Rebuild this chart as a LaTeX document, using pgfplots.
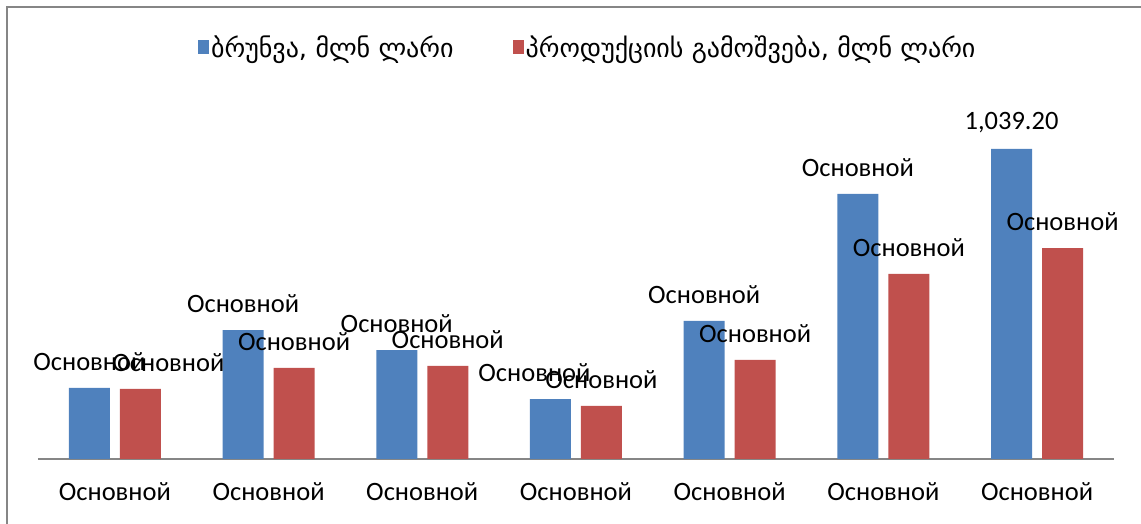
\documentclass[border=0pt]{standalone}
\usepackage{fontspec}
\setmainfont{Carlito}
\newfontfamily\geo{DejaVu Sans}
\usepackage{pgfplots}
\pgfplotsset{compat=1.18}
\definecolor{xblue}{RGB}{79,129,189}
\definecolor{xred}{RGB}{192,80,77}
\definecolor{xgray}{RGB}{134,134,134}
\begin{document}
\begin{tikzpicture}[x=1pt,y=1pt]
\useasboundingbox (0,0) rectangle (1141,524);
\draw[xgray, line width=2pt] (7,0) -- (7,517) -- (1141,517);
\begin{axis}[
  at={(38pt,65pt)}, anchor=south west,
  scale only axis, width=1076pt, height=379pt,
  xmin=-0.5, xmax=6.5, ymin=0, ymax=1270,
  ybar=10pt, bar width=41pt,
  hide y axis,
  axis x line*=bottom,
  x axis line style={xgray, line width=2pt},
  xtick={0,...,6},
  xticklabels={Основной,Основной,Основной,Основной,Основной,Основной,Основной},
  major tick length=0pt,
  xticklabel style={font=\fontsize{26.5}{30}\selectfont, anchor=center, yshift=-33pt},
  nodes near coords,
  point meta=explicit symbolic,
  every node near coord/.append style={font=\fontsize{26.5}{30}\selectfont, anchor=center, yshift=26pt, text=black},
  legend columns=2,
  legend style={draw=none, fill=none, at={(0.5110,1.087)}, anchor=center,
    font=\geo\fontsize{26}{30}\selectfont,
    /tikz/every even column/.append style={column sep=57pt}},
  legend image code/.code={\fill[#1] (0pt,-7pt) rectangle (11pt,7pt);},
]
\addplot[fill=xblue, draw=none] coordinates {
  (0,238) [Основной]
  (1,432) [Основной]
  (2,365) [Основной]
  (3,201) [Основной\kern32pt]
  (4,463) [Основной]
  (5,888) [Основной]
  (6,1039.2) [1,039.20]
};
\addplot[fill=xred, draw=none] coordinates {
  (0,235) [\kern56pt Основной]
  (1,305) [Основной]
  (2,312) [Основной]
  (3,178) [Основной]
  (4,332) [Основной]
  (5,620) [Основной]
  (6,707) [Основной]
};
\legend{{ბრუნვა, მლნ ლარი}, {პროდუქციის გამოშვება, მლნ ლარი}}
\end{axis}
\end{tikzpicture}
\end{document}
